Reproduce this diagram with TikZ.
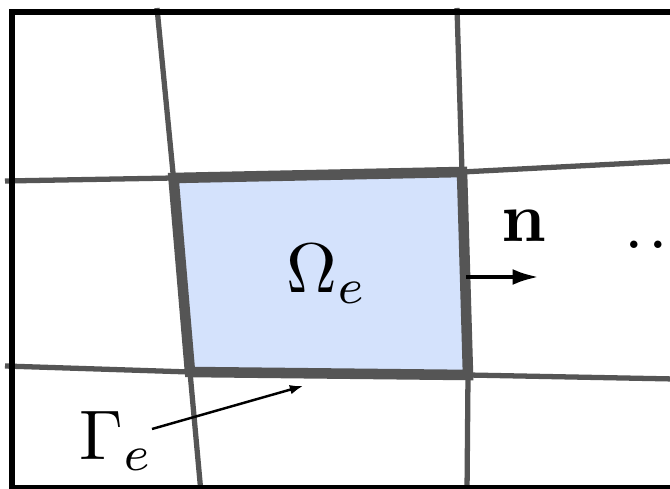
\documentclass[tikz,border=0pt]{standalone}
\usepackage{amsmath}
\usepackage{amssymb}
\usetikzlibrary{arrows.meta}
\definecolor{gridgray}{RGB}{85,85,85}
\definecolor{cellblue}{RGB}{212,226,252}

\begin{document}
\begin{tikzpicture}[
  gridline/.style={draw=gridgray, line width=3pt},
  edgeline/.style={draw=gridgray, line width=6pt},
  bigmath/.style={scale=4},
  pointer/.style={-{Latex[length=7.5pt,width=5.5pt]}, line width=1.4pt}
]
\useasboundingbox (0,0) rectangle (13.4,9.76);
\clip (0,0) rectangle (13.4,9.76);
\fill[white] (0,0) rectangle (13.4,9.76);

% Corners of the element
\coordinate (tl) at (3.47,6.20);
\coordinate (tr) at (9.24,6.32);
\coordinate (br) at (9.36,2.26);
\coordinate (bl) at (3.80,2.32);

% Neighbouring grid lines
\draw[gridline] (3.14,9.6) -- (tl) -- (bl) -- (4.02,-0.1);
\draw[gridline] (9.14,9.6) -- (tr) -- (br) -- (9.34,-0.1);
\draw[gridline] (0.1,6.14) -- (tl) -- (tr) -- (13.5,6.54);
\draw[gridline] (0.1,2.44) -- (bl) -- (br) -- (13.5,2.18);

% The element itself
\filldraw[edgeline, fill=cellblue] (tl) -- (tr) -- (br) -- (bl) -- cycle;

% Outer frame
\draw[black, line width=3pt] (14,9.52) -- (0.24,9.52) -- (0.24,0.01) -- (14,0.01);

% Labels
\node[bigmath, anchor=base] (omega) at (6.54,3.90) {$\Omega_e$};
\node[bigmath, anchor=base] (gamma) at (2.34,0.56) {$\Gamma_e$};
\node[bigmath, anchor=base] (normal) at (10.48,4.92) {$\mathbf{n}$};
\node[bigmath, anchor=base west, inner sep=0pt] (more) at (12.46,4.78) {.\kern0.65pt.\kern0.65pt.};

% Arrows
\coordinate (gtail) at (3.04,1.18);
\coordinate (gtip) at (6.06,2.04);
\draw[pointer] (gtail) -- (gtip);
\coordinate (ntail) at (9.32,4.22);
\coordinate (ntip) at (10.78,4.22);
\draw[-{Latex[length=15pt,width=9pt]}, line width=2.4pt] (ntail) -- (ntip);

\end{tikzpicture}
\end{document}
